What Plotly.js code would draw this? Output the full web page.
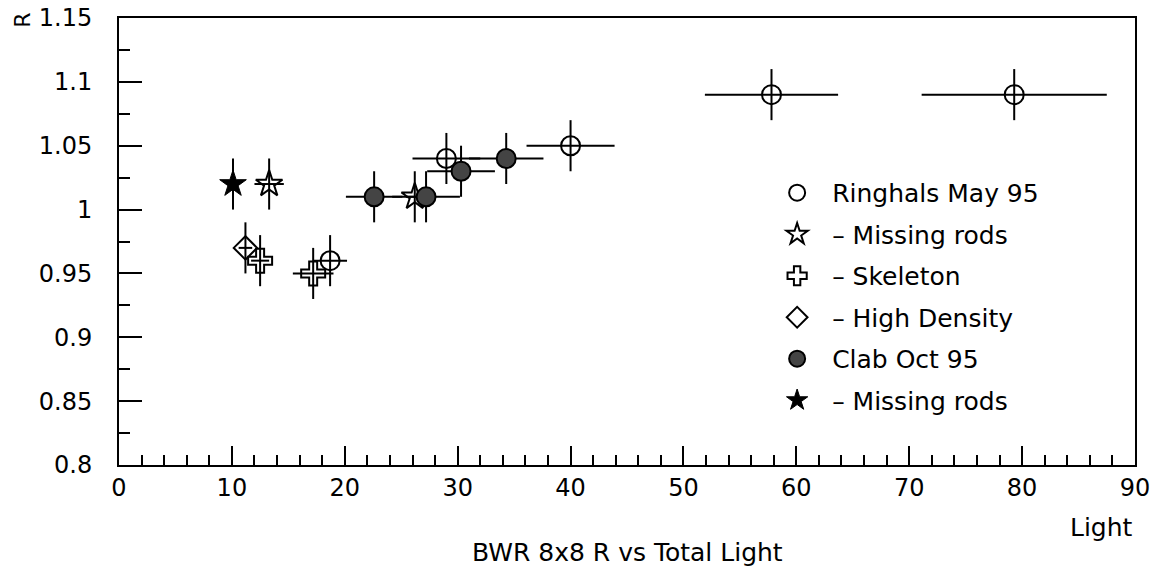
<!DOCTYPE html>
<html>
<head>
<meta charset="utf-8">
<script src="https://cdn.plot.ly/plotly-3.0.1.min.js"></script>
<style>
  html, body { margin: 0; padding: 0; background: #fff; }
  #chart { width: 1160px; height: 567px; }
</style>
</head>
<body>
<div id="chart"></div>
<script>
// Ringhals May 95 (open circles)
const ringhalsX    = [18.7, 29.0, 40.0, 57.8, 79.3];
const ringhalsY    = [0.96, 1.04, 1.05, 1.09, 1.09];
const ringhalsXErr = [1.5, 3.0, 3.9, 5.9, 8.2];
const ringhalsYErr = [0.02, 0.02, 0.02, 0.02, 0.02];

// Ringhals - Missing rods (open stars)
const rMissingX    = [13.3, 26.2];
const rMissingY    = [1.02, 1.01];
const rMissingXErr = [1.3, 0.8];
const rMissingYErr = [0.02, 0.02];

// Ringhals - Skeleton (open crosses)
const skeletonX    = [12.5, 17.2];
const skeletonY    = [0.96, 0.95];
const skeletonXErr = [0.8, 1.8];
const skeletonYErr = [0.02, 0.02];

// Ringhals - High Density (open diamond)
const highDensX    = [11.2];
const highDensY    = [0.97];
const highDensXErr = [0.6];
const highDensYErr = [0.02];

// Clab Oct 95 (filled circles)
const clabX    = [22.6, 27.2, 30.3, 34.3];
const clabY    = [1.01, 1.01, 1.03, 1.04];
const clabXErr = [2.5, 3.0, 3.0, 3.3];
const clabYErr = [0.02, 0.02, 0.02, 0.02];

// Clab - Missing rods (filled star)
const cMissingX    = [10.1];
const cMissingY    = [1.02];
const cMissingXErr = [0.5];
const cMissingYErr = [0.02];

const seriesNames = ['Ringhals May 95', '\u2013 Missing rods', '\u2013 Skeleton',
                     '\u2013 High Density', 'Clab Oct 95', '\u2013 Missing rods'];

const FONT = 'DejaVu Sans, Liberation Sans, sans-serif';

function errTrace(name, x, y, xe, ye, marker, grp) {
  return {
    type: 'scatter', mode: 'markers', name: name, x: x, y: y,
    legendgroup: grp,
    error_x: {type: 'data', array: xe, visible: true, color: '#000', thickness: 2, width: 0},
    error_y: {type: 'data', array: ye, visible: true, color: '#000', thickness: 2, width: 0},
    marker: marker, cliponaxis: false
  };
}

const traces = [
  errTrace(seriesNames[0], ringhalsX, ringhalsY, ringhalsXErr, ringhalsYErr,
    {symbol: 'circle-open', size: 19, color: '#000', line: {width: 2, color: '#000'}}, 'g0'),
  errTrace(seriesNames[1], rMissingX, rMissingY, rMissingXErr, rMissingYErr,
    {symbol: 'star-open', size: 20, color: '#000', line: {width: 2, color: '#000'}}, 'g1'),
  errTrace(seriesNames[2], skeletonX, skeletonY, skeletonXErr, skeletonYErr,
    {symbol: 'cross-open', size: 20, color: '#000', line: {width: 2, color: '#000'}}, 'g2'),
  errTrace(seriesNames[3], highDensX, highDensY, highDensXErr, highDensYErr,
    {symbol: 'diamond-open', size: 18, color: '#000', line: {width: 2, color: '#000'}}, 'g3'),
  errTrace(seriesNames[4], clabX, clabY, clabXErr, clabYErr,
    {symbol: 'circle', size: 19, color: '#444', line: {width: 2, color: '#000'}}, 'g4'),
  errTrace(seriesNames[5], cMissingX, cMissingY, cMissingXErr, cMissingYErr,
    {symbol: 'star', size: 20, color: '#000', line: {width: 1, color: '#000'}}, 'g5')
];

const layout = {
  width: 1160, height: 567,
  margin: {l: 119, r: 25, t: 18, b: 102, pad: 0},
  paper_bgcolor: '#fff', plot_bgcolor: '#fff',
  font: {family: FONT, size: 24, color: '#000'},
  showlegend: true,
  legend: {
    x: 0.633, y: 0.66, xanchor: 'left', yanchor: 'top',
    bgcolor: 'rgba(0,0,0,0)', borderwidth: 0,
    font: {family: FONT, size: 25, color: '#000'},
    traceorder: 'grouped', tracegroupgap: 6, itemwidth: 60
  },
  xaxis: {
    range: [0, 90], dtick: 10, tick0: 0,
    showgrid: false, zeroline: false,
    showline: true, linecolor: '#000', linewidth: 2, mirror: true,
    ticks: 'inside', ticklen: 19, tickwidth: 2, tickcolor: '#000',
    tickfont: {family: FONT, size: 24, color: '#000'},
    minor: {dtick: 2, ticks: 'inside', ticklen: 10, tickwidth: 2, tickcolor: '#000', showgrid: false}
  },
  yaxis: {
    range: [0.8, 1.15], dtick: 0.05, tick0: 0.8,
    showgrid: false, zeroline: false,
    showline: true, linecolor: '#000', linewidth: 2, mirror: true,
    ticks: 'inside', ticklen: 23, tickwidth: 2, tickcolor: '#000',
    ticklabelstandoff: 20,
    tickfont: {family: FONT, size: 24, color: '#000'},
    minor: {dtick: 0.025, ticks: 'inside', ticklen: 11, tickwidth: 2, tickcolor: '#000', showgrid: false}
  },
  annotations: [
    {text: 'BWR 8x8 R vs Total Light', xref: 'paper', yref: 'paper', x: 0.5, y: -0.195,
     xanchor: 'center', yanchor: 'middle', showarrow: false, font: {family: FONT, size: 25, color: '#000'}},
    {text: 'Light', xref: 'paper', yref: 'paper', x: 1, y: -0.14,
     xanchor: 'right', yanchor: 'middle', showarrow: false, font: {family: FONT, size: 25, color: '#000'}},
    {text: 'R', xref: 'paper', yref: 'paper', x: -0.095, y: 0.995, textangle: -90,
     xanchor: 'center', yanchor: 'middle', showarrow: false, font: {family: FONT, size: 22, color: '#000'}}
  ]
};

Plotly.newPlot('chart', traces, layout, {displayModeBar: false, staticPlot: true});
</script>
</body>
</html>
